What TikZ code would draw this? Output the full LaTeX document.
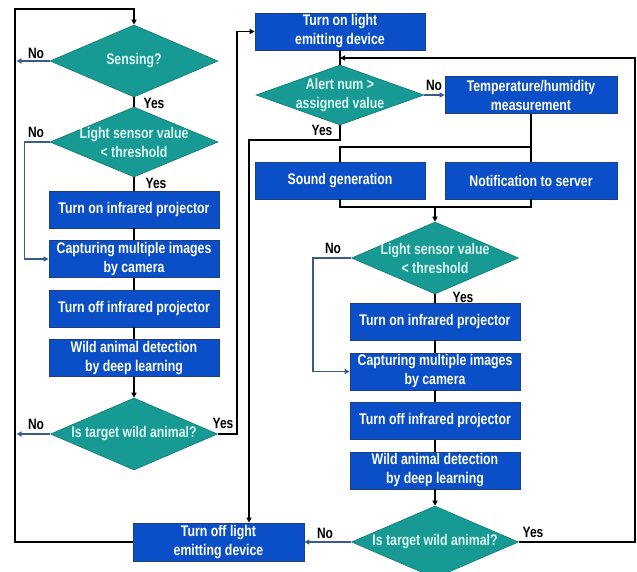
\documentclass[tikz,border=0pt]{standalone}
\usepackage{fontspec}
\setmainfont{Liberation Sans}[FakeStretch=0.8]
\usetikzlibrary{shapes.geometric,arrows.meta,calc}
\definecolor{boxblue}{HTML}{0B4FC8}
\definecolor{boxedge}{HTML}{1B3F80}
\definecolor{teal1}{HTML}{169A93}
\definecolor{tealedge}{HTML}{117A74}
\definecolor{dtxt}{HTML}{DDF6F2}
\definecolor{noblue}{HTML}{3B5B8C}
\begin{document}
\begin{tikzpicture}[x=1pt,y=-1pt,
 font=\fontsize{15.4}{19}\selectfont\bfseries,
 bx/.style={rectangle, fill=boxblue, draw=boxedge, line width=0.8pt, minimum width=170pt, minimum height=37pt, inner sep=0pt, text=white, align=center},
 dia/.style={diamond, fill=teal1, draw=tealedge, line width=0.6pt, minimum width=168pt, minimum height=72pt, inner sep=0pt},
 dt/.style={text=dtxt, align=center, inner sep=0pt},
 ln/.style={draw=black, line width=1.8pt},
 nl/.style={draw=noblue, line width=1.5pt},
 arr/.style={-{Triangle[length=5pt,width=5pt]}},
 lab/.style={text=black, inner sep=0pt, font=\fontsize{15}{17}\selectfont\bfseries}
]
\useasboundingbox[fill=white] (0,0) rectangle (637,572);

% left column
\node[dia, label={[dt]center:Sensing?}] (sense) at (134,61) {};
\node[dia, minimum height=70pt, label={[dt]center:{Light sensor value\\< threshold}}] (ls1) at (134,142) {};
\node[bx] (on1) at (134,209.5) {Turn on infrared projector};
\node[bx] (cap1) at (134,259) {Capturing multiple images\\by camera};
\node[bx] (off1) at (134,308.5) {Turn off infrared projector};
\node[bx] (det1) at (134,358) {Wild animal detection\\by deep learning};
\node[dia, minimum width=167pt, label={[dt]center:Is target wild animal?}] (tgt1) at (134,434) {};

% right column
\node[bx] (onL) at (340,31.5) {Turn on light\\emitting device};
\node[dia, minimum height=60pt, label={[dt]center:{Alert num >\\assigned value}}] (alert) at (340,95) {};
\node[bx, minimum width=172pt] (temp) at (531,95) {Temperature/humidity\\measurement};
\node[bx] (sound) at (340,180.5) {Sound generation};
\node[bx, minimum width=172pt] (notif) at (531,180.5) {Notification to server};
\node[dia, minimum width=167pt, label={[dt]center:{Light sensor value\\< threshold}}] (ls2) at (435,258) {};
\node[bx] (on2) at (435,321.5) {Turn on infrared projector};
\node[bx] (cap2) at (435,371.5) {Capturing multiple images\\by camera};
\node[bx] (off2) at (435,421) {Turn off infrared projector};
\node[bx] (det2) at (435,470.5) {Wild animal detection\\by deep learning};
\node[dia, minimum width=167pt, label={[dt]center:Is target wild animal?}] (tgt2) at (435,542) {};
\node[bx, minimum width=171pt, minimum height=38pt] (offL) at (218.5,542) {Turn off light\\emitting device};

% coordinates
\coordinate (lx) at (15,0);
\coordinate (j1) at (340,58);
\coordinate (br1) at (531,147);
\coordinate (mg) at (435,207);
\coordinate (yd) at (249,140);

% left connectors
\draw[ln,arr] (offL.west) -- (lx |- offL.west) -- (15,9) -- (134,9) -- (sense.north);
\draw[nl,arr] (sense.west) -- (16.5,61);
\draw[ln] (sense.south) -- (ls1.north);
\draw[nl,arr] (ls1.west) -- ++(-25,0) |- (cap1.west);
\draw[ln] (ls1.south) -- (on1.north);
\draw[ln] (on1.south) -- (cap1.north);
\draw[ln] (cap1.south) -- (off1.north);
\draw[ln] (off1.south) -- (det1.north);
\draw[ln,arr] (det1.south) -- (tgt1.north);
\draw[nl,arr] (tgt1.west) -- (16.5,434);
\draw[ln,arr] (tgt1.east) -- (237,434) |- (onL.west);

% right connectors
\draw[ln] (onL.south) -- (alert.north);
\draw[ln,arr] (tgt2.east) -- (635,542) |- (j1);
\draw[nl,arr] (alert.east) -- (temp.west);
\draw[ln,arr] (alert.south) -- (alert.south |- yd) -- (yd) -- (yd |- offL.north);
\draw[ln] (temp.south) -- (notif.north);
\draw[ln] (br1) -| (sound.north);
\draw[ln] (sound.south) -- ++(0,8) -| (notif.south);
\draw[ln,arr] (mg) -- (ls2.north);
\draw[nl,arr] (ls2.west) -- ++(-38,0) |- (cap2.west);
\draw[ln] (ls2.south) -- (on2.north);
\draw[ln] (on2.south) -- (cap2.north);
\draw[ln] (cap2.south) -- (off2.north);
\draw[ln] (off2.south) -- (det2.north);
\draw[ln,arr] (det2.south) -- (tgt2.north);
\draw[nl,arr] (tgt2.west) -- (offL.east);

% labels
\node[lab] (no1) at (36,53) {No};
\node[lab] (yes1) at (154,103) {Yes};
\node[lab] (no2) at (36,132) {No};
\node[lab] (yes2) at (156,183) {Yes};
\node[lab] (no3) at (36,424) {No};
\node[lab] (yes3) at (223,423) {Yes};
\node[lab] (no4) at (434,85) {No};
\node[lab] (yes4) at (322,130) {Yes};
\node[lab] (no5) at (333,248) {No};
\node[lab] (yes5) at (463,297) {Yes};
\node[lab] (no6) at (325,533) {No};
\node[lab] (yes6) at (533,532) {Yes};
\end{tikzpicture}
\end{document}
